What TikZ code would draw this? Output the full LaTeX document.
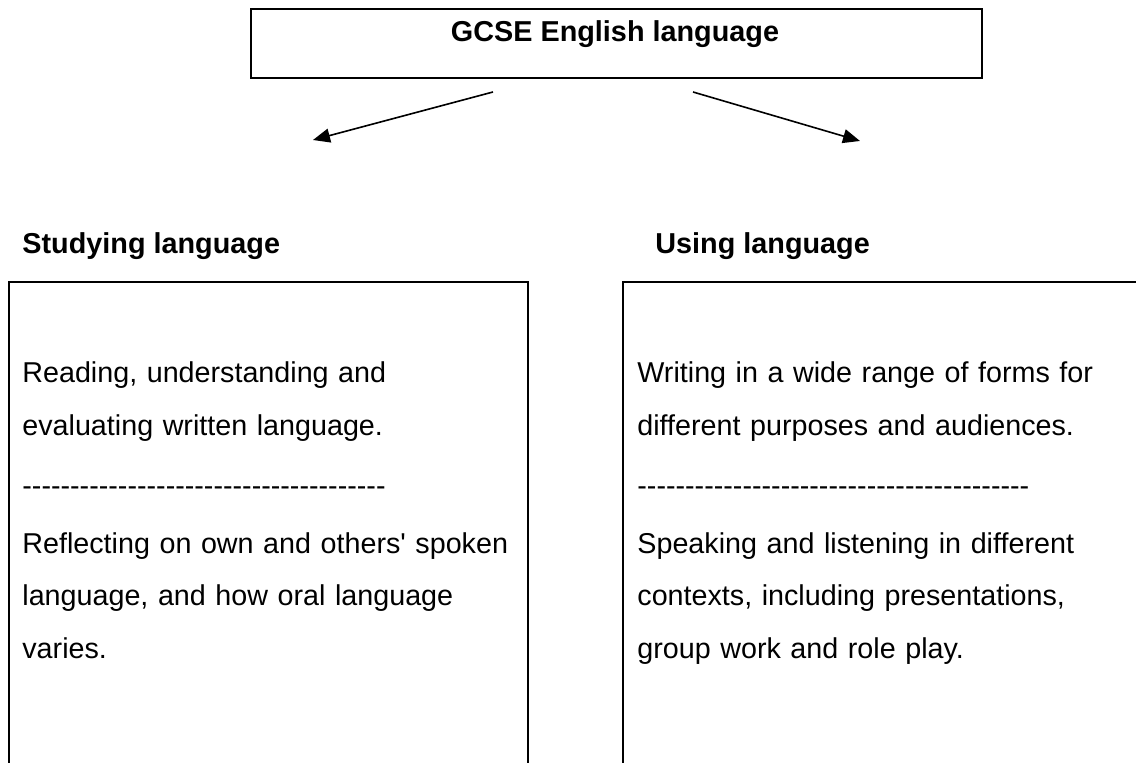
\documentclass[tikz,border=0pt]{standalone}
\usepackage{fontspec}
\setmainfont{Liberation Sans}[Ligatures=TeXOff]
\usetikzlibrary{arrows.meta}

\tikzset{
	frame/.style={draw,line width=1pt,inner sep=0pt},
	heading/.style={inner sep=0pt,font=\fontsize{14.4}{17}\selectfont\bfseries},
	body/.style={anchor=base west,inner sep=0pt,align=left,text width=260pt,font=\fontsize{14.35}{26.25}\selectfont},
	pointer/.style={line width=0.8pt,-{Triangle[length=8.5pt,width=7pt]}}
}
\newcommand\dashrow[1]{\foreach\d in {1,...,#1}{-}}

\begin{document}
\begin{tikzpicture}[x=0.5pt,y=-0.5pt]
		\useasboundingbox (0,0) rectangle (1136,763);
		\clip (0,0) rectangle (1136,763);
		% top box
		\node[frame,line width=1.2pt,minimum width=365.5pt,minimum height=34.5pt] (course) at (616.5,43.5) {};
		\node[heading,anchor=base] (coursename) at (615,42) {GCSE English language};
		\coordinate (studyfrom) at (493,92);
		\coordinate (studyto) at (313,140);
		\coordinate (usefrom) at (693,92);
		\coordinate (useto) at (860,141);
		\draw[pointer] (studyfrom) -- (studyto);
		\draw[pointer] (usefrom) -- (useto);
		% headings
		\node[heading,anchor=base west] (studyhead) at (22,254) {Studying language};
		\node[heading,anchor=base west] (usehead) at (655,254) {Using language};
		% boxes, cut by the page edge
		\node[frame,anchor=north west,minimum width=259.5pt,minimum height=300pt] (studybox) at (8,281) {};
		\node[frame,anchor=north west,minimum width=300pt,minimum height=300pt] (usebox) at (622,281) {};
		\node[body] (studytext) at (22,383) {Reading, understanding and\\
			evaluating written language.\\[4pt]
			\dashrow{38}\\[2.5pt]
			Reflecting on own and others' spoken\\
			language, and how oral language\\
			varies.};
		\node[body] (usetext) at (637,383) {Writing in a wide range of forms for\\
			different purposes and audiences.\\[4pt]
			\dashrow{41}\\[2.5pt]
			Speaking and listening in different\\
			contexts, including presentations,\\
			group work and role play.};
	\end{tikzpicture}
\end{document}
